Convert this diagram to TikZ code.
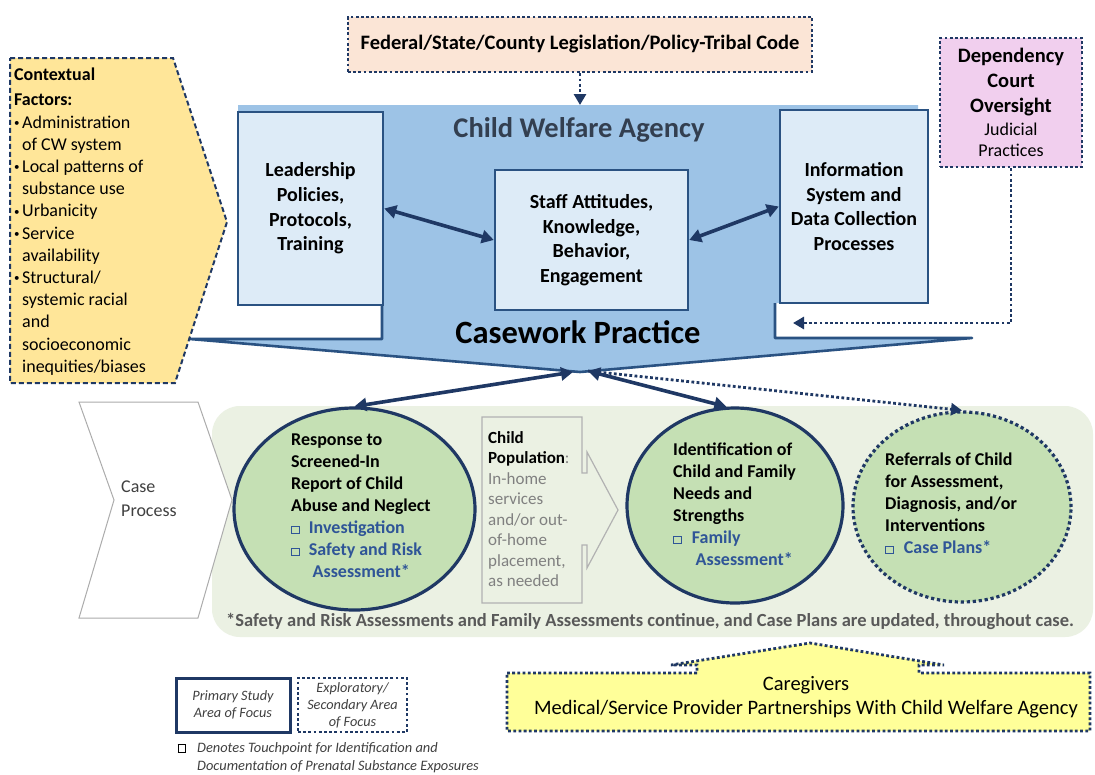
\documentclass[tikz,border=0pt]{standalone}
\usepackage{fontspec}
\setmainfont{Carlito}
\usetikzlibrary{shapes.geometric,arrows.meta}

\definecolor{agencyblue}{HTML}{9DC3E6}
\definecolor{boxfill}{HTML}{DDEBF7}
\definecolor{boxline}{HTML}{2A5282}
\definecolor{navy}{HTML}{1F3864}
\definecolor{ctxfill}{HTML}{FFE699}
\definecolor{fedfill}{HTML}{FBE5D6}
\definecolor{courtfill}{HTML}{F1CFEE}
\definecolor{carefill}{HTML}{FFFF99}
\definecolor{casebg}{HTML}{EBF1E3}
\definecolor{circfill}{HTML}{C5E0B4}
\definecolor{tpblue}{HTML}{2F5597}
\definecolor{slate}{HTML}{333F50}
\definecolor{greytext}{HTML}{595959}
\definecolor{darkgrey}{HTML}{404040}
\definecolor{lightgrey}{HTML}{808080}

\newcommand\fsz[2]{\fontsize{#1}{#2}\selectfont}
\newcommand\tpbox{\raisebox{0.5pt}{\setlength\fboxsep{0pt}\setlength\fboxrule{1.1pt}\fbox{\rule{0pt}{6.5pt}\rule{6.5pt}{0pt}}}}
\newcommand\ctxbullet{\makebox[8pt][l]{\raisebox{1.5pt}{\fsz{11}{11}\textbullet}}}
\newcommand\ctxindent{\hspace*{8pt}}

\begin{document}
\begin{tikzpicture}[x=1pt,y=-1pt,
   agencybox/.style={draw=boxline,line width=2.4pt,fill=boxfill,align=center,
      inner sep=0pt,font=\bfseries\fsz{20}{24.6}},
   dotline/.style={draw=navy,line width=2.8pt,dash pattern=on 2.8pt off 2.4pt},
   dotbox/.style={dotline,align=center,inner sep=0pt},
   circ/.style={ellipse,draw=navy,line width=3.2pt,fill=circfill,inner sep=0pt},
   circtext/.style={anchor=north west,align=left,inner sep=0pt,font=\bfseries\fsz{18}{22}},
   biarrow/.style={draw=navy,line width=3.6pt,
      {Triangle[length=12pt,width=13pt]}-{Triangle[length=12pt,width=13pt]}},
   dotarrow/.style={dotline,-{Triangle[length=11pt,width=12pt]}}]
\useasboundingbox (0,0) rectangle (1095,774);
\fill[white] (0,0) rectangle (1095,774);

% case process band
\fill[casebg,rounded corners=28pt] (212,406) rectangle (1093,637);
\filldraw[fill=white,draw=gray!65,line width=1pt] (79,402) -- (198,402) -- (232,500)
   -- (198,618) -- (79,618) -- (114,500) -- cycle;
\node[anchor=west,align=left,inner sep=0pt,text=darkgrey,font=\fsz{18}{24}] (caseproc)
   at (121,499) {Case\\Process};

% agency block with its funnel
\fill[agencyblue] (238,105) -- (918,105) -- (918,303) -- (775,303) -- (775,338)
   -- (972,338) -- (580,372) -- (190,339) -- (382,339) -- (382,305) -- (238,305) -- cycle;
\draw[boxline,line width=2.6pt,line join=round] (382,305) -- (382,339) -- (190,339)
   -- (580,372) -- (972,338) -- (775,338) -- (775,303);
\node[font=\bfseries\fsz{28.5}{32},text=slate] (agency) at (579,130) {Child Welfare Agency};
\node[font=\bfseries\fsz{32.5}{36}] (casework) at (578,332) {Casework Practice};

\node[agencybox,minimum width=145pt,minimum height=193pt] (lead) at (310.5,208.5)
   {Leadership\\Policies,\\Protocols,\\Training};
\node[agencybox,minimum width=193pt,minimum height=140pt] (staff) at (591.5,240)
   {Staff Attitudes,\\Knowledge,\\Behavior,\\Engagement};
\node[agencybox,minimum width=148pt,minimum height=193pt] (info) at (854,206.5)
   {Information\\System and\\Data Collection\\Processes};
\draw[biarrow] (lead.east) -- (staff.west);
\draw[biarrow] (staff.east) -- (info.west);

% outside influences
\node[dotbox,fill=fedfill,minimum width=464pt,minimum height=55pt,
   font=\bfseries\fsz{20.5}{24}] (fed) at (580,44.5)
   {Federal/State/County Legislation/Policy-Tribal Code};
\coordinate (agtop) at (580,105);
\draw[dotarrow] (fed.south) -- (agtop);

\node[dotbox,fill=courtfill,minimum width=142pt,minimum height=129pt,
   font=\fsz{20.5}{25}] (court) at (1011,102.5)
   {\textbf{Dependency}\\ \textbf{Court}\\ \textbf{Oversight}\\[-2pt]
    \fsz{18}{22}Judicial\\[-4pt] \fsz{18}{22}Practices};
\coordinate (courtin) at (793,323);
\draw[dotarrow] (court.south) |- (courtin);

\filldraw[fill=ctxfill,draw=navy,line width=2pt,dash pattern=on 5pt off 3pt]
   (10,58) -- (173,58) -- (227,222) -- (175,383) -- (10,383) -- cycle;
\node[anchor=north west,align=left,inner sep=0pt,font=\fsz{18}{22.2}] (ctx) at (14,68)
   {\textbf{Contextual}\\[2.8pt] \textbf{Factors:}\\
    \ctxbullet Administration\\ \ctxindent of CW system\\
    \ctxbullet Local patterns of\\ \ctxindent substance use\\
    \ctxbullet Urbanicity\\
    \ctxbullet Service\\ \ctxindent availability\\
    \ctxbullet Structural/\\ \ctxindent systemic racial\\ \ctxindent and\\
    \ctxindent socioeconomic\\ \ctxindent inequities/biases};

% case steps
\draw[gray!60,line width=1.2pt] (482,417) -- (582,417) -- (582,473) -- (587,473)
   -- (587,452) -- (618,510) -- (587,568) -- (587,545) -- (582,545) -- (582,603)
   -- (482,603) -- cycle;
\node[anchor=north west,align=left,inner sep=0pt,text=lightgrey,font=\fsz{17}{20.5}] (pop)
   at (488,431) {\textcolor{black}{\textbf{Child}}\\ \textcolor{black}{\textbf{Population}}:\\
   In-home\\ services\\ and/or out-\\ of-home\\ placement,\\ as needed};

\node[circ,minimum width=241pt,minimum height=202pt] (resp) at (354.5,509) {};
\node[circtext] (resptext) at (291,434)
   {Response to\\ Screened-In\\ Report of Child\\ Abuse and Neglect\\
    \textcolor{tpblue}{\tpbox\hspace{9pt}Investigation}\\
    \textcolor{tpblue}{\tpbox\hspace{9pt}Safety and Risk}\\
    \textcolor{tpblue}{\hspace*{21.5pt}Assessment*}};

\node[circ,minimum width=216pt,minimum height=195pt] (ident) at (735,505.5) {};
\node[circtext] (identtext) at (673,443)
   {Identification of\\ Child and Family\\ Needs and\\ Strengths\\
    \textcolor{tpblue}{\tpbox\hspace{10pt}Family}\\
    \textcolor{tpblue}{\hspace*{22.5pt}Assessment*}};

\node[circ,dash pattern=on 3.2pt off 2.8pt,minimum width=218pt,minimum height=190pt]
   (refer) at (962,507) {};
\node[circtext] (refertext) at (885,453)
   {Referrals of Child\\ for Assessment,\\ Diagnosis, and/or\\ Interventions\\
    \textcolor{tpblue}{\tpbox\hspace{10pt}Case Plans*}};

\coordinate (apexL) at (573,372);
\coordinate (apexR) at (588,371);
\draw[biarrow] (apexL) -- (resp.north);
\draw[biarrow] (apexR) -- (ident.95);
\draw[dotarrow] (apexR) -- (refer.north);

\node[font=\bfseries\fsz{18.5}{22},text=greytext] (note) at (650,621)
   {*Safety and Risk Assessments and Family Assessments continue, and Case Plans are updated, throughout case.};

% partners
\filldraw[fill=carefill,dotline] (507,673) -- (697,673) -- (697,665) -- (671,665)
   -- (810,643) -- (944,665) -- (919,665) -- (919,673) -- (1090,673) -- (1090,731)
   -- (507,731) -- cycle;
\node[align=center,inner sep=0pt,font=\fsz{20.5}{24}] (care) at (806,697)
   {Caregivers\\ Medical/Service Provider Partnerships With Child Welfare Agency};

% key
\node[draw=navy,line width=3pt,minimum width=114pt,minimum height=54pt,align=center,
   inner sep=0pt,text=darkgrey,font=\itshape\fsz{14.3}{17}] (primary) at (233,705)
   {Primary Study\\ Area of Focus};
\node[dotbox,minimum width=109pt,minimum height=54pt,text=darkgrey,
   font=\itshape\fsz{14.3}{17}] (explor) at (352.5,705)
   {Exploratory/\\ Secondary Area\\ of Focus};
\node[anchor=north west,align=left,inner sep=0pt,text=darkgrey,font=\itshape\fsz{14.4}{18}]
   (touch) at (197,742)
   {\llap{\textcolor{black}{\tpbox}\hspace{11pt}}Denotes Touchpoint for Identification and\\
    Documentation of Prenatal Substance Exposures};
\end{tikzpicture}
\end{document}
